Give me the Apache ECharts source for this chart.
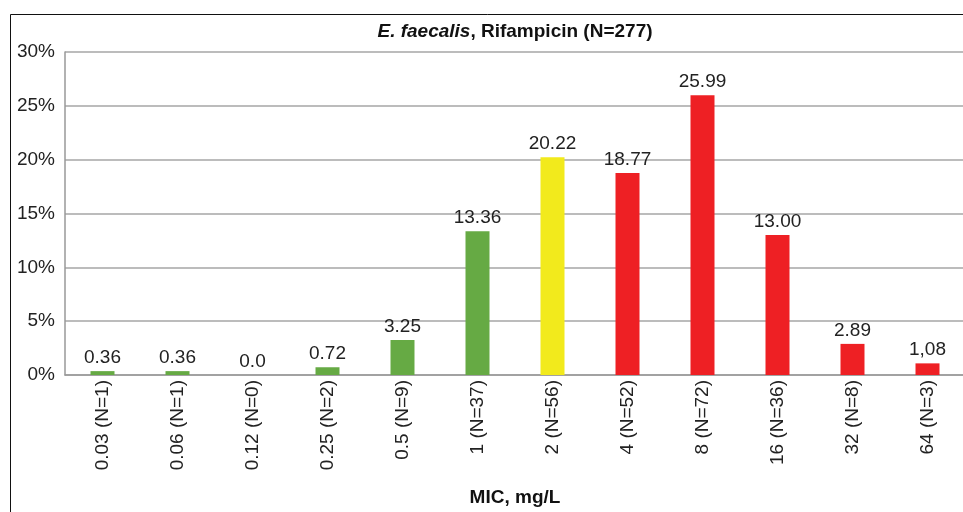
<!DOCTYPE html>
<html>
<head>
<meta charset="utf-8">
<script src="https://cdn.jsdelivr.net/npm/echarts@6/dist/echarts.min.js"></script>
<style>html,body{margin:0;padding:0;background:#fff}#c{width:963px;height:512px}</style>
</head>
<body>
<div id="c"></div>
<script>
var categories = ['0.03 (N=1)','0.06 (N=1)','0.12 (N=0)','0.25 (N=2)','0.5 (N=9)','1 (N=37)','2 (N=56)','4 (N=52)','8 (N=72)','16 (N=36)','32 (N=8)','64 (N=3)'];
var values = [0.36, 0.36, 0, 0.72, 3.25, 13.36, 20.22, 18.77, 25.99, 13.00, 2.89, 1.08];
var valueLabels = ['0.36','0.36','0.0','0.72','3.25','13.36','20.22','18.77','25.99','13.00','2.89','1,08'];
var barGroups = ['S','S','S','S','S','S','I','R','R','R','R','R'];
var yTicks = [0, 5, 10, 15, 20, 25, 30];
var groupColors = {S: '#66AA44', I: '#F2EA1C', R: '#EE2024'};
var FONT = '"Liberation Sans", Arial, sans-serif';

var chart = echarts.init(document.getElementById('c'), null, {renderer: 'canvas'});
chart.setOption({
  animation: false,
  backgroundColor: '#fff',
  grid: {left: 65, right: -2, top: 52, bottom: 137, containLabel: false, outerBoundsMode: 'none'},
  graphic: [
    {type: 'rect', shape: {x: 10.5, y: 14.5, width: 1000, height: 600}, style: {fill: 'none', stroke: '#111', lineWidth: 1}, silent: true},
    {type: 'text', x: 515, y: 32, style: {
      text: '{i|E. faecalis}{b|, Rifampicin (N=277)}',
      align: 'center', verticalAlign: 'middle',
      rich: {
        i: {fontFamily: FONT, fontSize: 19, fontWeight: 'bold', fontStyle: 'italic', fill: '#111'},
        b: {fontFamily: FONT, fontSize: 19, fontWeight: 'bold', fill: '#111'}
      }
    }}
  ],
  xAxis: {
    type: 'category',
    data: categories,
    name: 'MIC, mg/L',
    nameLocation: 'middle',
    nameGap: 113,
    nameTextStyle: {fontFamily: FONT, fontSize: 19, fontWeight: 'bold', color: '#111'},
    axisLine: {show: true, lineStyle: {color: '#999', width: 1.5}},
    axisTick: {show: false},
    axisLabel: {rotate: 90, margin: 5, fontFamily: FONT, fontSize: 19, color: '#222', interval: 0}
  },
  yAxis: {
    type: 'value',
    min: yTicks[0], max: yTicks[yTicks.length - 1], interval: 5,
    axisLine: {show: true, lineStyle: {color: '#999', width: 1.5}},
    axisTick: {show: false},
    axisLabel: {formatter: '{value}%', margin: 10, fontFamily: FONT, fontSize: 19, color: '#222'},
    splitLine: {show: true, lineStyle: {color: '#a6a6a6', width: 1.5}}
  },
  series: [{
    type: 'bar',
    barWidth: 24,
    data: values.map(function (v, i) {
      return {value: v, itemStyle: {color: groupColors[barGroups[i]]}};
    }),
    label: {
      show: true, position: 'top', distance: 4,
      fontFamily: FONT, fontSize: 19, color: '#222',
      formatter: function (p) { return valueLabels[p.dataIndex]; }
    }
  }]
});
</script>
</body>
</html>
